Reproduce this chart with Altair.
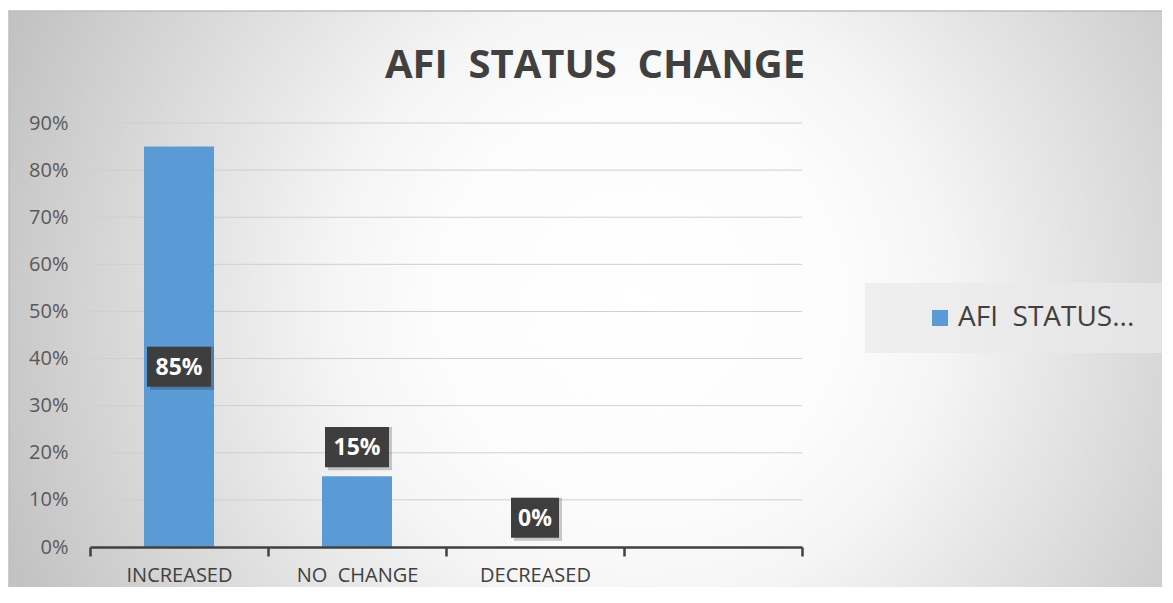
import altair as alt
import pandas as pd

# ---- data ----
categories = ["INCREASED", "NO\u00a0 CHANGE", "DECREASED"]
values = [0.85, 0.15, 0.0]
slot_domain = categories + [" "]          # fourth, empty category slot
series_name = "AFI\u00a0 STATUS\u00a0 CHANGE"
legend_text = "AFI\u00a0 STATUS..."
y_ticks = [0.0, 0.1, 0.2, 0.3, 0.4, 0.5, 0.6, 0.7, 0.8, 0.9]
title_text = "AFI\u00a0 STATUS\u00a0 CHANGE"

df = pd.DataFrame({"category": categories, "value": values,
                   "series": [series_name] * len(categories)})
grid_df = pd.DataFrame({"tick": y_ticks[1:]})
one = pd.DataFrame({"k": [0]})

W, H = 712, 424
PL, PT, PR, PB = 82, 115, 360, 40
FONT = "Open Sans"
BAR = "#5B9BD5"
DARK = "#404040"

x_axis = alt.Axis(labelAngle=0, labelFontSize=20, labelColor=DARK, labelFont=FONT,
                  domainColor=DARK, domainWidth=2.5, tickColor=DARK, tickWidth=2.5,
                  tickSize=9, tickBand="extent", labelPadding=9, grid=False, title=None,
                  zindex=2)
x_scale = alt.Scale(domain=slot_domain, paddingInner=0, paddingOuter=0)
y_scale = alt.Scale(domain=[0, 0.9], nice=False)
y_axis = alt.Axis(values=y_ticks, format=".0%", domain=False, ticks=False, grid=False,
                  labelPadding=22, labelFontSize=20, labelColor="#595959",
                  labelFont=FONT, title=None, zindex=2)

def X():
    return alt.X("category:N", scale=x_scale, axis=x_axis, title=None)

gradient = {
    "gradient": "radial",
    "x1": 0.546, "y1": 0.5, "r1": 0,
    "x2": 0.546, "y2": 0.5, "r2": 0.59,
    "stops": [
        {"offset": 0.0, "color": "#ffffff"},
        {"offset": 0.3, "color": "#fcfcfc"},
        {"offset": 0.45, "color": "#f5f5f5"},
        {"offset": 0.7, "color": "#dedede"},
        {"offset": 1.0, "color": "#c2c2c2"},
    ],
}

background = alt.Chart(one).mark_rect(color=gradient, stroke="#bdbdbd", strokeWidth=1.5).encode(
    x=alt.value(-PL + 1), x2=alt.value(W + PR + 2), y=alt.value(-PT + 3), y2=alt.value(H + PB + 2)
)

grid = alt.Chart(grid_df).mark_rule(color="#cfcfcf", strokeWidth=1).encode(
    x=alt.value(0), x2=alt.value(W),
    y=alt.Y("tick:Q", scale=y_scale, axis=y_axis),
)

legend_box = alt.Chart(one).mark_rect(color="#e9e9e9", opacity=0.7).encode(
    x=alt.value(865 - 8 - PL), x2=alt.value(1168 - 8 - PL),
    y=alt.value(283 - 8 - PT), y2=alt.value(353 - 8 - PT)
)

bars = alt.Chart(df).mark_bar(width=70).encode(
    x=X(),
    y=alt.Y("value:Q", scale=y_scale, axis=y_axis),
    color=alt.Color("series:N", scale=alt.Scale(domain=[series_name], range=[BAR]),
                    legend=alt.Legend(title=None, orient="none", legendX=836, legendY=181,
                                      padding=0, symbolType="square", symbolSize=256,
                                      symbolStrokeWidth=0, labelFontSize=28,
                                      labelFont=FONT, labelColor=DARK, labelOffset=4,
                                      labelExpr=f"'{legend_text}'", labelLimit=400)),
)

lab = alt.Chart(df).transform_calculate(
    label_y="datum.value > 0.5 ? datum.value * 0.45 : datum.value + 0.062",
    lo="datum.label_y - 0.0425",
    hi="datum.label_y + 0.0425",
)

def box(width, cond, color, opacity=1.0, off=0):
    return lab.transform_filter(cond).mark_bar(
        width=width, color=color, opacity=opacity, xOffset=off, yOffset=off
    ).encode(
        x=X(),
        y=alt.Y("lo:Q", scale=y_scale, axis=y_axis),
        y2=alt.Y2("hi:Q"),
    )

wide = "datum.value >= 0.095"
narrow = "datum.value < 0.095"
shadow_w = box(64, wide, "#000000", 0.2, 3)
shadow_n = box(48, narrow, "#000000", 0.2, 3)
box_w = box(64, wide, "#3e3e3e")
box_n = box(48, narrow, "#3e3e3e")

labels = lab.mark_text(color="white", fontWeight="bold", fontSize=23, font=FONT,
                       baseline="middle", dy=1).encode(
    x=X(),
    y=alt.Y("label_y:Q", scale=y_scale, axis=y_axis),
    text=alt.Text("value:Q", format=".0%"),
)

chart = alt.layer(
    background, grid, legend_box, bars, shadow_w, shadow_n, box_w, box_n, labels
).properties(
    width=W, height=H,
    autosize=alt.AutoSizeParams(type="none"),
    padding={"left": PL, "top": PT, "right": PR, "bottom": PB},
    title=alt.TitleParams(title_text, fontSize=40, fontWeight="bold", font=FONT,
                          color=DARK, anchor="middle", frame="group", dx=149,
                          offset=0, baseline="alphabetic", dy=108),
).configure_view(stroke=None).configure(background="white")

chart.save("out.html", embed_options={"renderer": "svg", "actions": False})
